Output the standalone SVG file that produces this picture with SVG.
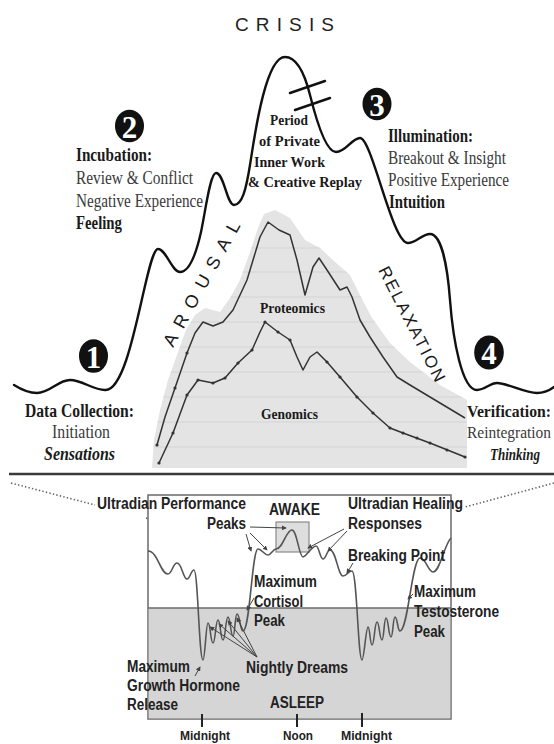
<svg xmlns="http://www.w3.org/2000/svg" width="554" height="744" viewBox="0 0 554 744">
<style>
.serif{font-family:"Liberation Serif","Times New Roman",serif;fill:#1a1a1a}
.lbl{font-size:18px}
.lbr{font-size:15.8px}
.b{font-weight:bold}
.bi{font-weight:bold;font-style:italic}
.reg{fill:#3a3a3a}
.mid{font-size:15.5px;font-weight:bold}
.sans{font-family:"Liberation Sans",Arial,sans-serif;fill:#1a1a1a}
.thin{font-size:19px;fill:#222}
.bl{font-size:16px;font-weight:bold;fill:#222}
.sm{font-size:13.5px;font-weight:bold;fill:#222}
.badge{fill:#111}
.num{font-family:"Liberation Serif","Times New Roman",serif;font-size:31px;font-weight:bold;fill:#fff;text-anchor:middle}
.main{fill:none;stroke:#111;stroke-width:2.4;stroke-linecap:round;stroke-linejoin:round}
.data{fill:none;stroke:#333;stroke-width:1.5;stroke-linejoin:round}
.dot{fill:#333}
.wave{fill:none;stroke:#555;stroke-width:1.6;stroke-linejoin:round}
.dotted{fill:none;stroke:#666;stroke-width:1.6;stroke-dasharray:1.4 2.2}
.ann{fill:none;stroke:#444;stroke-width:1;marker-end:url(#ah)}
.tick{stroke:#222;stroke-width:2}
</style>
<defs>
<marker id="ah" viewBox="0 0 6 6" refX="5" refY="3" markerWidth="5" markerHeight="5" orient="auto"><path d="M0,0 L6,3 L0,6 z" fill="#444"/></marker>
<clipPath id="shadeClip"><polygon points="152,468 154,440 160,410 168,380 178,352 186,330 195,315 205,308 220,312 230,298 240,280 250,252 258,228 264,214 275,210 290,218 305,240 320,248 335,262 350,275 360,295 372,318 390,343 410,362 440,385 467,400 467,468"/></clipPath>
</defs>
<rect width="554" height="744" fill="#fff"/>

<g id="title">
<text class="sans thin" x="235" y="31" textLength="99" lengthAdjust="spacing">CRISIS</text>
</g>

<g id="omics-panel">
<g clip-path="url(#shadeClip)">
<rect x="140" y="200" width="340" height="280" fill="#e4e4e4"/>
<g stroke="#d4d4d4" stroke-width="1">
<line x1="140" y1="248" x2="480" y2="248"/><line x1="140" y1="272" x2="480" y2="272"/><line x1="140" y1="297" x2="480" y2="297"/><line x1="140" y1="322" x2="480" y2="322"/><line x1="140" y1="347" x2="480" y2="347"/><line x1="140" y1="372" x2="480" y2="372"/><line x1="140" y1="397" x2="480" y2="397"/><line x1="140" y1="422" x2="480" y2="422"/><line x1="140" y1="447" x2="480" y2="447"/>
</g>
</g>
<path class="data" d="M157,445 L165,417 L175,388 L187,353 L195,333 L203,322 L213,326 L223,322 L233,310 L247,280 L260,237 L268,222 L279,230 L290,235 L297,260 L305,295 L313,267 L319,258 L327,270 L340,290 L347,287 L352,297 L360,320 L370,337 L383,357 L397,377 L410,385 L440,403 L465,418"/>
<path class="data" d="M159,463 L173,433 L187,395 L198,380 L213,383 L225,378 L238,363 L252,350 L260,332 L265,322 L278,332 L290,340 L297,357 L303,370 L310,357 L317,352 L327,362 L340,377 L357,397 L373,413 L390,428 L403,433 L430,443 L465,457"/>
<g class="dot">
<circle cx="159" cy="463" r="1.6"/><circle cx="173" cy="433" r="1.6"/><circle cx="187" cy="395" r="1.6"/><circle cx="198" cy="380" r="1.6"/><circle cx="213" cy="383" r="1.6"/><circle cx="225" cy="378" r="1.6"/><circle cx="238" cy="363" r="1.6"/><circle cx="252" cy="350" r="1.6"/><circle cx="265" cy="322" r="1.6"/><circle cx="278" cy="332" r="1.6"/><circle cx="290" cy="340" r="1.6"/><circle cx="327" cy="362" r="1.6"/><circle cx="340" cy="377" r="1.6"/><circle cx="357" cy="397" r="1.6"/><circle cx="373" cy="413" r="1.6"/><circle cx="390" cy="428" r="1.6"/><circle cx="403" cy="433" r="1.6"/><circle cx="417" cy="438" r="1.6"/><circle cx="430" cy="443" r="1.6"/><circle cx="447" cy="450" r="1.6"/><circle cx="465" cy="457" r="1.6"/>
<circle cx="157" cy="445" r="1.6"/><circle cx="175" cy="388" r="1.6"/><circle cx="187" cy="353" r="1.6"/>
</g>
<text class="serif mid" x="260" y="313" textLength="65" lengthAdjust="spacingAndGlyphs">Proteomics</text>
<text class="serif mid" x="261" y="419" textLength="57" lengthAdjust="spacingAndGlyphs">Genomics</text>
</g>

<g id="connectors">
<path id="creative-cycle" class="main" d="M14,385 C22,390 29,393 37,393 C50,393 58,380 70,380 C82,380 93,390 105,390 C132,392 146,249 158,249 C166,249 172,272 180,272 C190,272 197,250 201,232 S210,173 216,173 C224,173 227,205 234,205 C242,205 246,190 250,165 S265,57 285,57 C297,57 305,75 310,95 S325,152 336,152 C346,152 352,138 360,138 C372,138 392,243 408,243 C416,243 422,234 430,234 C440,234 447,260 450,300 S462,390 477,390 C485,390 490,383 497,383 C507,383 525,393 537,393 C545,393 550,390 554,387"/>
<line class="main" x1="290" y1="93" x2="325" y2="81" stroke-width="2"/>
<line class="main" x1="295" y1="110" x2="330" y2="98" stroke-width="2"/>
<line x1="9" y1="474" x2="554" y2="474" stroke="#3a3a3a" stroke-width="2.5"/>
<path class="dotted" d="M11,483 L95,505 M146,518 L273,552"/>
<path class="dotted" d="M554,483 L465,507 M423,519 L308,552"/>
</g>

<g id="arousal-label"><text class="sans" font-size="18" fill="#222" transform="translate(173,348) rotate(-61)" textLength="140" lengthAdjust="spacing">AROUSAL</text></g>
<g id="relaxation-label"><text class="sans" font-size="17" fill="#222" transform="translate(378,270) rotate(63)" textLength="127" lengthAdjust="spacing">RELAXATION</text></g>

<g id="stage1">
<ellipse class="badge" cx="93.5" cy="356" rx="14.5" ry="16.8"/>
<text class="num" x="93.5" y="367.5">1</text>
<text class="serif lbl b" x="25" y="417" textLength="109" lengthAdjust="spacingAndGlyphs">Data Collection:</text>
<text class="serif lbl reg" x="52" y="438" textLength="58" lengthAdjust="spacingAndGlyphs">Initiation</text>
<text class="serif lbl bi" x="44" y="460" textLength="71" lengthAdjust="spacingAndGlyphs">Sensations</text>
</g>

<g id="stage2">
<ellipse class="badge" cx="129.5" cy="126" rx="14.5" ry="16.3"/>
<text class="num" x="129.5" y="137.5">2</text>
<text class="serif lbl b" x="76" y="161" textLength="76" lengthAdjust="spacingAndGlyphs">Incubation:</text>
<text class="serif lbl reg" x="76" y="184" textLength="117" lengthAdjust="spacingAndGlyphs">Review &amp; Conflict</text>
<text class="serif lbl reg" x="76" y="207" textLength="127" lengthAdjust="spacingAndGlyphs">Negative Experience</text>
<text class="serif lbl b" x="76" y="229" textLength="46" lengthAdjust="spacingAndGlyphs">Feeling</text>
</g>

<g id="crisis-period">
<text class="serif mid" x="270" y="125" textLength="38" lengthAdjust="spacingAndGlyphs">Period</text>
<text class="serif mid" x="259" y="146" textLength="61" lengthAdjust="spacingAndGlyphs">of Private</text>
<text class="serif mid" x="254" y="167" textLength="71" lengthAdjust="spacingAndGlyphs">Inner Work</text>
<text class="serif mid" x="248" y="187" textLength="114" lengthAdjust="spacingAndGlyphs">&amp; Creative Replay</text>
</g>

<g id="stage3">
<ellipse class="badge" cx="377" cy="104" rx="14.5" ry="16.3"/>
<text class="num" x="377" y="115.5">3</text>
<text class="serif lbl b" x="388" y="142" textLength="85" lengthAdjust="spacingAndGlyphs">Illumination:</text>
<text class="serif lbl reg" x="388" y="164" textLength="118" lengthAdjust="spacingAndGlyphs">Breakout &amp; Insight</text>
<text class="serif lbl reg" x="388" y="186" textLength="121" lengthAdjust="spacingAndGlyphs">Positive Experience</text>
<text class="serif lbl b" x="389" y="208" textLength="56" lengthAdjust="spacingAndGlyphs">Intuition</text>
</g>

<g id="stage4">
<ellipse class="badge" cx="489" cy="352.5" rx="14.8" ry="17"/>
<text class="num" x="489" y="364">4</text>
<text class="serif lbr b" x="467" y="417" textLength="84" lengthAdjust="spacingAndGlyphs">Verification:</text>
<text class="serif lbr reg" x="467" y="438" textLength="84" lengthAdjust="spacingAndGlyphs">Reintegration</text>
<text class="serif lbr bi" x="490" y="460" textLength="50" lengthAdjust="spacingAndGlyphs">Thinking</text>
</g>

<g id="circadian-panel">
<rect x="148" y="495" width="303" height="224" fill="#fff" stroke="#6a6a6a" stroke-width="1.5"/>
<rect x="148.75" y="608" width="301.5" height="110.25" fill="#d5d5d5"/>
<line x1="148" y1="608" x2="451" y2="608" stroke="#6a6a6a" stroke-width="1.5"/>
<rect x="276" y="522" width="33" height="30" fill="#dedede" stroke="#8a8a8a" stroke-width="1.2"/>
<path class="wave" d="M148,551 C158,551 160,574 168,574 C172,574 173,563 177,563 C182,563 183,579 187,579 C190,579 191,570 194,570 C198,570 199,660 203,660 C205,660 206,623 208,623 C210.5,623 210.5,643 213,643 C215.5,643 215.5,620 218,620 C220.5,620 220.5,640 223,640 C225.5,640 225.5,617 228,617 C230.5,617 230.5,636 233,636 C235,636 235,614 237,614 C240,614 240,631 243,631 C250,631 252,549 258,549 C262,549 264,555 268,555 C271,555 273,549 276,549 C283,549 286,530 292,530 C297,530 299,557 303,557 C306,557 312,546 316,546 C319,546 320,559 323,559 C326,559 327,550 330,550 C336,550 338,576 343,576 C347,576 348,571 352,571 C357,571 358,660 362,660 C364,660 366,627 368,627 C370,627 370,645 372,645 C374.5,645 374.5,622 377,622 C379.5,622 379.5,640 382,640 C384,640 384,618 386,618 C388.5,618 388.5,637 391,637 C393,637 393,617 395,617 C397.5,617 397.5,631 400,631 C408,631 412,558 420,558 C426,558 428,572 433,572 C440,572 444,545 451,538"/>
<line class="tick" x1="202" y1="714" x2="202" y2="727"/>
<line class="tick" x1="297" y1="714" x2="297" y2="727"/>
<line class="tick" x1="362" y1="713" x2="362" y2="727"/>
</g>

<g id="annotations">
<path class="ann" d="M250,527 L286,528"/>
<path class="ann" d="M246,534 L251,551"/>
<path class="ann" d="M250,533 L267,550"/>
<path class="ann" d="M344,529 L308,548"/>
<path class="ann" d="M347,531 L328,551"/>
<path class="ann" d="M353,563 L347,573"/>
<path class="ann" d="M254,598 L247,610"/>
<path class="ann" d="M413,594 L408,599"/>
<path class="ann" d="M195,676 L200,667"/>
<path class="ann" d="M257,657 L210,627"/>
<path class="ann" d="M257,657 L219,624"/>
<path class="ann" d="M257,657 L228,621"/>
<path class="ann" d="M257,657 L237,618"/>
</g>

<g id="panel-labels">
<text class="sans bl" x="97" y="509" textLength="149" lengthAdjust="spacingAndGlyphs">Ultradian Performance</text>
<text class="sans bl" x="207" y="529" textLength="39" lengthAdjust="spacingAndGlyphs">Peaks</text>
<text class="sans bl" x="269" y="515" textLength="51" lengthAdjust="spacingAndGlyphs">AWAKE</text>
<text class="sans bl" x="348" y="509" textLength="115" lengthAdjust="spacingAndGlyphs">Ultradian Healing</text>
<text class="sans bl" x="348" y="529" textLength="74" lengthAdjust="spacingAndGlyphs">Responses</text>
<text class="sans bl" x="348" y="561" textLength="97" lengthAdjust="spacingAndGlyphs">Breaking Point</text>
<text class="sans bl" x="254" y="587" textLength="63" lengthAdjust="spacingAndGlyphs">Maximum</text>
<text class="sans bl" x="254" y="607" textLength="49" lengthAdjust="spacingAndGlyphs">Cortisol</text>
<text class="sans bl" x="254" y="626" textLength="31" lengthAdjust="spacingAndGlyphs">Peak</text>
<text class="sans bl" x="414" y="597" textLength="62" lengthAdjust="spacingAndGlyphs">Maximum</text>
<text class="sans bl" x="414" y="617" textLength="85" lengthAdjust="spacingAndGlyphs">Testosterone</text>
<text class="sans bl" x="414" y="637" textLength="31" lengthAdjust="spacingAndGlyphs">Peak</text>
<text class="sans bl" x="127" y="672" textLength="63" lengthAdjust="spacingAndGlyphs">Maximum</text>
<text class="sans bl" x="127" y="691" textLength="113" lengthAdjust="spacingAndGlyphs">Growth Hormone</text>
<text class="sans bl" x="127" y="710" textLength="51" lengthAdjust="spacingAndGlyphs">Release</text>
<text class="sans bl" x="246" y="673" textLength="102" lengthAdjust="spacingAndGlyphs">Nightly Dreams</text>
<text class="sans bl" x="270" y="708" textLength="54" lengthAdjust="spacingAndGlyphs">ASLEEP</text>
<text class="sans sm" x="180" y="740" textLength="50" lengthAdjust="spacingAndGlyphs">Midnight</text>
<text class="sans sm" x="283" y="740" textLength="30" lengthAdjust="spacingAndGlyphs">Noon</text>
<text class="sans sm" x="341" y="740" textLength="51" lengthAdjust="spacingAndGlyphs">Midnight</text>
</g>
</svg>
